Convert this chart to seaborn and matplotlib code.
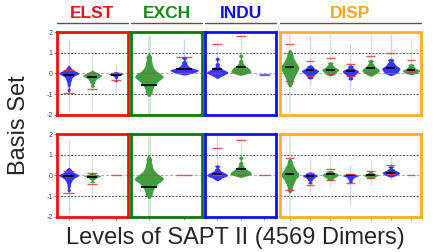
import numpy as np
import seaborn as sns
import matplotlib.pyplot as plt
from matplotlib.lines import Line2D

sns.set_style("white")
plt.rcParams['font.family'] = ['Liberation Sans', 'DejaVu Sans']

# Gruppen und Anzahl Violinen pro Gruppe
groups = ["ELST", "EXCH", "INDU", "DISP"]
group_sizes = [3, 2, 3, 7]

# obere Reihe: Stichproben je Violine (aus dem Bild geschaetzt)
top_samples = [
    [-0.8, -0.55, -0.4, -0.3, -0.22, -0.15, -0.1, -0.06, -0.03, 0, 0, 0.02, 0.04, 0.07, 0.1, 0.14, 0.2, 0.3],
    [-0.6, -0.45, -0.35, -0.28, -0.22, -0.18, -0.15, -0.12, -0.1, -0.08, -0.05, -0.02, 0.02, 0.08],
    [-0.35, -0.2, -0.12, -0.08, -0.05, -0.03, -0.02, 0.0, 0.02, 0.05],
    [-0.95, -0.75, -0.6, -0.48, -0.4, -0.32, -0.26, -0.21, -0.17, -0.13, -0.09, -0.04, 0.02, 0.1, 0.2, 0.35, 0.55, 0.8],
    [0.0, 0.03, 0.06, 0.09, 0.12, 0.14, 0.16, 0.18, 0.2, 0.23, 0.27, 0.33, 0.42, 0.55, 0.75],
    [-0.15, -0.08, -0.04, 0.0, 0.02, 0.05, 0.07, 0.1, 0.13, 0.17, 0.22, 0.3, 0.45, 0.7],
    [0.0, 0.02, 0.05, 0.08, 0.12, 0.15, 0.18, 0.22, 0.26, 0.3, 0.36, 0.45, 0.6, 0.85],
    [-0.08, -0.06, -0.05, -0.04, -0.03, -0.02],
    [-0.5, -0.3, -0.15, -0.05, 0.05, 0.12, 0.2, 0.26, 0.32, 0.38, 0.45, 0.55, 0.65, 0.8, 1.0],
    [-0.2, -0.1, -0.03, 0.02, 0.06, 0.1, 0.13, 0.16, 0.2, 0.26, 0.35],
    [-0.05, 0.02, 0.07, 0.11, 0.15, 0.18, 0.21, 0.25, 0.3, 0.38, 0.5],
    [-0.25, -0.12, -0.05, 0.0, 0.04, 0.08, 0.11, 0.14, 0.18, 0.24, 0.35],
    [-0.05, 0.02, 0.07, 0.11, 0.15, 0.19, 0.23, 0.28, 0.35, 0.45, 0.6],
    [-0.02, 0.05, 0.1, 0.15, 0.2, 0.24, 0.28, 0.33, 0.4, 0.5, 0.65],
    [0.0, 0.04, 0.08, 0.11, 0.14, 0.17, 0.2, 0.25, 0.32, 0.42],
]
top_tails = [(-1.85, 1.6), (-1.8, 1.1), (-0.95, 0.35), (-2.0, 1.8), (-0.05, 1.65),
             (-0.25, 1.5), (-0.05, 1.9), None, (-1.9, 1.9), (-0.6, 1.8),
             (-0.3, 1.9), (-0.85, 1.4), (-0.15, 1.9), (-0.1, 1.9), (-0.05, 1.6)]
top_mid = [-0.07, -0.15, -0.05, -0.56, 0.22, 0.2, 0.32, None,
           0.32, 0.16, 0.19, 0.13, 0.24, 0.25, 0.16]
top_red = [[0.18, -0.95], [0.0, -0.75], [0.0, -0.3], [0.0], [0.78, 0.0],
           [1.4, 0.0], [1.8, 0.0], [-0.05], [1.42, -0.38], [0.59, -0.12],
           [0.74, -0.02], [0.45, -0.12], [0.82, 0.0], [1.0, 0.0], [0.65, 0.05]]

# untere Reihe
bot_samples = [
    [-0.7, -0.5, -0.35, -0.25, -0.18, -0.12, -0.08, -0.04, -0.02, 0.0, 0.02, 0.04, 0.07, 0.1, 0.15, 0.22, 0.3],
    [-0.3, -0.18, -0.12, -0.08, -0.05, -0.03, -0.01, 0.01, 0.04, 0.1],
    [],
    [-0.95, -0.75, -0.6, -0.48, -0.4, -0.32, -0.26, -0.21, -0.17, -0.13, -0.09, -0.04, 0.02, 0.1, 0.2, 0.35, 0.55, 0.8],
    [],
    [-0.18, -0.1, -0.06, -0.03, 0.0, 0.02, 0.05, 0.08, 0.11, 0.15, 0.2, 0.3, 0.45],
    [0.0, 0.02, 0.05, 0.08, 0.11, 0.14, 0.17, 0.2, 0.24, 0.29, 0.35, 0.45, 0.6, 0.85],
    [],
    [-0.7, -0.5, -0.35, -0.25, -0.15, -0.08, -0.02, 0.03, 0.08, 0.13, 0.2, 0.28, 0.38, 0.5, 0.7],
    [-0.35, -0.22, -0.14, -0.09, -0.05, -0.02, 0.0, 0.03, 0.06, 0.12],
    [-0.2, -0.12, -0.07, -0.03, 0.0, 0.03, 0.06, 0.09, 0.13, 0.2],
    [-0.3, -0.2, -0.13, -0.08, -0.04, -0.02, 0.0, 0.02, 0.04],
    [-0.12, -0.07, -0.04, -0.01, 0.01, 0.03, 0.05, 0.08, 0.12, 0.2],
    [-0.02, 0.03, 0.07, 0.1, 0.13, 0.16, 0.19, 0.23, 0.3, 0.42],
    [],
]
bot_tails = [(-1.85, 1.7), (-1.2, 1.0), None, (-2.0, 1.9), None,
             (-0.3, 1.9), (-0.05, 1.8), None, (-1.95, 1.95), (-0.9, 0.9),
             (-0.6, 1.0), (-1.4, 0.5), (-0.5, 0.8), (-0.2, 0.9), None]
bot_mid = [-0.04, -0.05, None, -0.56, None, 0.08, 0.32, None,
           0.05, -0.03, 0.05, 0.0, 0.03, 0.13, None]
bot_red = [[0.24, -0.85], [0.1, -0.4], [0.0], [0.0], [0.0],
           [1.32, 0.0], [1.72, 0.0], [0.0], [0.84, -0.7], [0.13, -0.45],
           [0.29, -0.21], [0.05, -0.35], [0.24, -0.11], [0.53, 0.05], [0.0]]

# Stil
blue, green = "#3535ff", "#3f9f3f"
violin_colors = [blue, green, blue, green, blue, blue, green, blue,
                 green, blue, green, blue, green, blue, green]
top_widths = [0.85, 0.8, 0.6, 0.8, 0.8, 0.9, 0.85, 0.45,
              0.9, 0.85, 0.85, 0.8, 0.85, 0.9, 0.85]
bot_widths = [0.85, 0.7, 0, 0.82, 0, 0.87, 0.9, 0,
              0.9, 0.75, 0.8, 0.8, 0.75, 0.85, 0]
tail_widths = [1, 1, 1, 2.2, 1, 1, 1, 1, 1.3, 1, 1, 1, 1, 1, 1]
box_colors = ["#f01010", "#0e7a0e", "#1010ee", "#f8b020"]
title_colors = ["#e8141c", "#138a13", "#1010e0", "#f6a81c"]

fig = plt.figure(figsize=(4.48, 2.52), dpi=100)
gs = fig.add_gridspec(2, 4, width_ratios=[1, 1, 1, 2], left=0.127, right=0.94,
                      top=0.873, bottom=0.139, hspace=0.23, wspace=0.04)

rows = [(top_samples, top_tails, top_mid, top_red, top_widths),
        (bot_samples, bot_tails, bot_mid, bot_red, bot_widths)]

for r, (samples, tails, mids, reds, widths) in enumerate(rows):
    start = 0
    for g, n in enumerate(group_sizes):
        ax = fig.add_subplot(gs[r, g])
        ax.axhline(1, color="#555555", lw=0.7, ls=(0, (2, 1.5)), zorder=0)
        ax.axhline(-1, color="#555555", lw=0.7, ls=(0, (2, 1.5)), zorder=0)
        ax.axhline(0, color="#aaaaaa", lw=0.7, ls=(0, (3, 2)), zorder=0)
        for k in range(n):
            i = start + k
            col = violin_colors[i]
            if tails[i] is not None:
                ax.vlines(k, tails[i][0], tails[i][1], color=col, alpha=0.22,
                          lw=tail_widths[i], zorder=1)
            if len(samples[i]) > 0:
                sns.violinplot(x=np.full(len(samples[i]), k), y=samples[i], native_scale=True,
                               orient="x", color=col, width=widths[i], cut=1.5, inner=None,
                               linewidth=0, saturation=1, bw_adjust=0.42, density_norm="width",
                               ax=ax, zorder=2)
            if mids[i] is not None:
                ax.hlines(mids[i], k - 0.22, k + 0.22, color="black", lw=1.3, zorder=3)
            ax.hlines(reds[i], k - 0.22, k + 0.22, color="#e03c3c", alpha=0.85, lw=1.0, zorder=4)
        start += n

        ax.set_xlim(-0.5, n - 0.5)
        ax.set_ylim(-2, 2)
        ax.set_yticks([-2, -1, 0, 1, 2])
        ax.set_xlabel("")
        ax.set_ylabel("")
        if r == 1:
            ax.set_xticks(range(n))
            ax.set_xticklabels([])
            ax.tick_params(axis="x", bottom=True, length=2, width=0.6, color="#777777")
        else:
            ax.set_xticks([])
        if g == 0:
            ax.set_yticklabels(["-2", "-1", "0", "1", "2"])
            ax.tick_params(axis="y", left=True, length=2, width=0.6, color="#777777",
                           labelsize=5, labelcolor="#444444", pad=1)
        else:
            ax.tick_params(axis="y", left=False, labelleft=False)
        for sp in ax.spines.values():
            sp.set_color(box_colors[g])
            sp.set_linewidth(2)

        if r == 0:
            pos = ax.get_position()
            fig.text((pos.x0 + pos.x1) / 2, 0.946, groups[g], color=title_colors[g],
                     fontsize=12.5, fontweight="bold", ha="center", va="center")
            fig.add_artist(Line2D([pos.x0, pos.x1], [0.907, 0.907], transform=fig.transFigure,
                                  color="#555555", lw=1))

fig.text(0.525, 0.056, "Levels of SAPT II (4569 Dimers)", fontsize=17, ha="center", va="center")
fig.text(0.042, 0.504, "Basis Set", fontsize=17, rotation=90, ha="center", va="center")

fig.savefig("out.png", dpi=100)
